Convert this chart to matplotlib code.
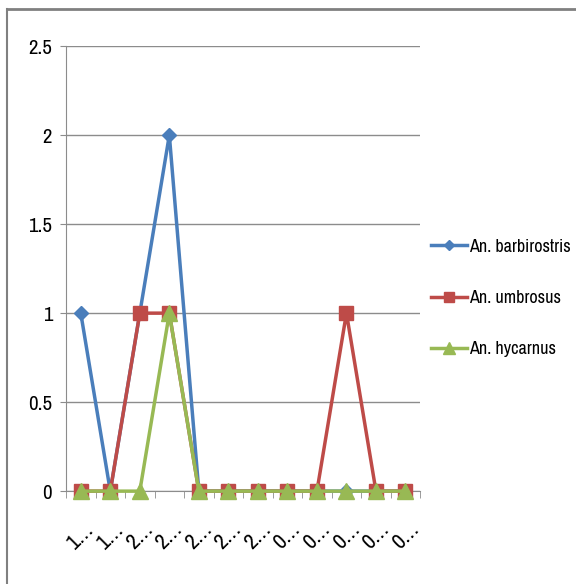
import numpy as np
import matplotlib
matplotlib.use("Agg")
import matplotlib.pyplot as plt
from matplotlib.lines import Line2D
from matplotlib import font_manager

# the reference uses a narrow (Calibri-like) face; take a condensed one if installed
names = sorted({f.name for f in font_manager.fontManager.ttflist})
narrow = [n for n in names if "Narrow" in n or "Condensed" in n]
FONT = narrow[0] if narrow else "Liberation Sans"
plt.rcParams["font.family"] = [FONT, "DejaVu Sans"]
FS = 12 if narrow else 10

# data
categories = ["1…", "1…", "2…", "2…", "2…", "2…", "2…", "0…", "0…", "0…", "0…", "0…"]
barbirostris = [1, 0, 1, 2, 0, 0, 0, 0, 0, 0, 0, 0]
umbrosus = [0, 0, 1, 1, 0, 0, 0, 0, 0, 1, 0, 0]
hycarnus = [0, 0, 0, 1, 0, 0, 0, 0, 0, 0, 0, 0]

series = [
    ("An. barbirostris", barbirostris, "#4a7ebb", "D", 7),
    ("An. umbrosus", umbrosus, "#be4b48", "s", 10),
    ("An. hycarnus", hycarnus, "#98b954", "^", 11),
]

fig = plt.figure(figsize=(5.76, 5.84), dpi=100)
ax = fig.add_axes([0.1146, 0.159, 0.615, 0.762])

x = np.arange(len(categories))
for name, vals, col, mk, ms in series:
    ax.plot(x, vals, color=col, lw=2.5, marker=mk, markersize=ms,
            markeredgecolor=col, label=name, clip_on=False, zorder=3)

ax.set_xlim(-0.5, len(categories) - 0.5)
ax.set_ylim(0, 2.5)
ax.set_yticks(np.arange(0, 2.51, 0.5))
ax.set_yticklabels(["0", "0.5", "1", "1.5", "2", "2.5"])
ax.yaxis.grid(True, color="#8c8c8c", lw=1)
ax.set_axisbelow(True)

# category labels centred, ticks on category boundaries
ax.set_xticks(x)
ax.set_xticklabels(categories, rotation=45, ha="center", va="top")
ax.set_xticks(np.arange(-0.5, len(categories)), minor=True)
ax.tick_params(axis="x", which="major", length=0, pad=20, labelsize=FS + 4)
ax.tick_params(axis="x", which="minor", length=5, color="#8c8c8c", direction="out")
ax.tick_params(axis="y", length=4, color="#8c8c8c", labelsize=FS + 3, pad=6)

for s in ["top", "right"]:
    ax.spines[s].set_visible(False)
for s in ["left", "bottom"]:
    ax.spines[s].set_color("#8c8c8c")

handles = [Line2D([], [], color=c, lw=2.5, marker=m, markersize=ms * 0.75,
                  markeredgecolor=c) for _, _, c, m, ms in series]
fig.legend(handles, [s[0] for s in series], loc="center left",
           bbox_to_anchor=(0.72, 0.49), frameon=False, fontsize=FS + 1,
           handlelength=2.0, handletextpad=0.1, labelspacing=1.95)

# outer chart frame (only top and left visible in the crop)
fig.add_artist(Line2D([0.012, 1.0], [0.985, 0.985], color="#808080", lw=2,
                      transform=fig.transFigure))
fig.add_artist(Line2D([0.012, 0.012], [0.0, 0.985], color="#808080", lw=1.5,
                      transform=fig.transFigure))

fig.savefig("out.png", dpi=100)
